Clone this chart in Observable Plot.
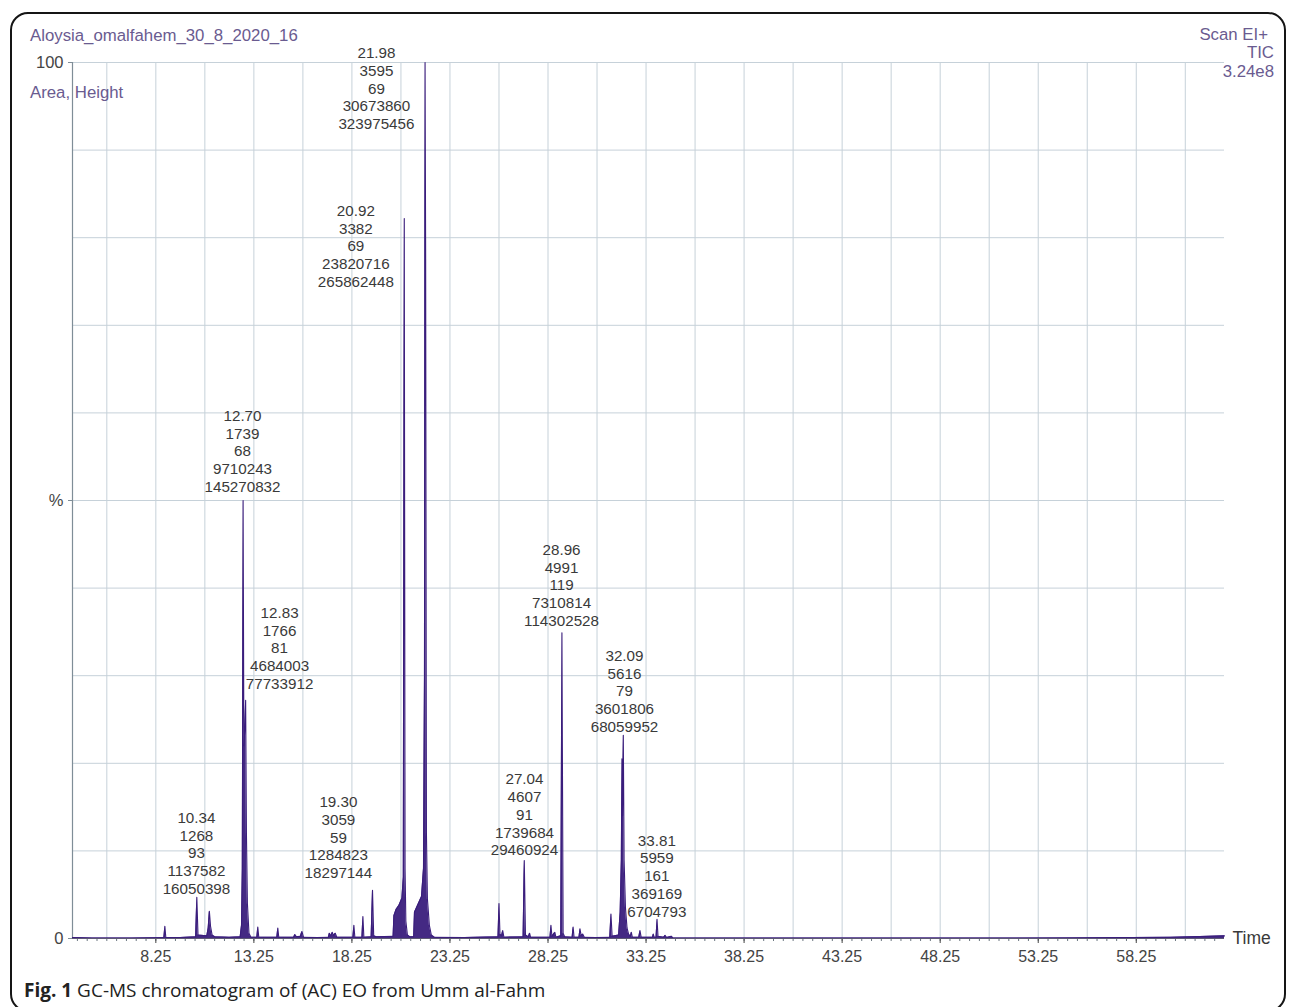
<!DOCTYPE html>
<html>
<head>
<meta charset="utf-8">
<script src="https://cdn.jsdelivr.net/npm/d3@7"></script>
<script src="https://cdn.jsdelivr.net/npm/@observablehq/plot@0.6"></script>
<style>
  html, body { margin: 0; padding: 0; background: #fff; }
  #wrap { position: relative; width: 1293px; height: 1007px; overflow: hidden; background: #fff; }
  #frame { position: absolute; left: 10px; top: 12px; width: 1276px; height: 1000px; border: 2px solid #151515; border-radius: 18px; box-sizing: border-box; }
  #chart { position: absolute; left: 0; top: 0; }
  .hdr { position: absolute; font-family: "Liberation Sans", Arial, sans-serif; font-size: 16.8px; color: #6a5b90; line-height: 18px; white-space: nowrap; }
  #caption { position: absolute; left: 24px; top: 977px; font-family: "Open Sans", "Noto Sans", sans-serif; font-size: 19px; color: #222; white-space: nowrap; }
  #caption b { font-weight: 700; }
</style>
</head>
<body>
<div id="wrap">
  <div id="frame"></div>
  <div id="chart"></div>
  <div class="hdr" style="left:30px; top:27px;">Aloysia_omalfahem_30_8_2020_16</div>
  <div class="hdr" style="left:30px; top:84px;">Area, Height</div>
  <div class="hdr" style="right:25px; top:26px; text-align:right;">Scan EI+</div>
  <div class="hdr" style="right:19px; top:44px; text-align:right;">TIC</div>
  <div class="hdr" style="right:19px; top:63px; text-align:right;">3.24e8</div>
  <div id="caption"><b>Fig. 1</b> GC-MS chromatogram of (AC) EO from Umm al-Fahm</div>
</div>
<script>
// ---- Data ----
const xDomain = [4, 62.75];
const majorTicks = [8.25, 13.25, 18.25, 23.25, 28.25, 33.25, 38.25, 43.25, 48.25, 53.25, 58.25];
const gridTimes = [5.75, 8.25, 10.75, 13.25, 15.75, 18.25, 20.75, 23.25, 25.75, 28.25, 30.75, 33.25, 35.75, 38.25, 40.75, 43.25, 45.75, 48.25, 50.75, 53.25, 55.75, 58.25, 60.75];
const gridPct = [0, 10, 20, 30, 40, 50, 60, 70, 80, 90, 100];
const yTicks = [0, 50, 100];
const yTickLabels = ["0", "%", "100"];

// TIC trace (retention time in min, relative intensity in %)
const traceTime = [4.0, 5.0, 6.0, 7.0, 8.0, 8.66, 8.71, 8.76, 9.5, 10.28, 10.34, 10.40, 10.85, 10.92, 10.98, 11.04, 11.12, 11.25, 12.0, 12.55, 12.62, 12.66, 12.70, 12.74, 12.79, 12.83, 12.87, 12.92, 13.0, 13.1, 13.40, 13.45, 13.50, 14.42, 14.47, 14.52, 15.28, 15.34, 15.42, 15.62, 15.70, 15.78, 16.5, 17.05, 17.10, 17.17, 17.25, 17.31, 17.40, 17.48, 18.30, 18.35, 18.40, 18.76, 18.81, 18.86, 19.23, 19.30, 19.36, 19.5, 20.35, 20.39, 20.5, 20.65, 20.8, 20.87, 20.92, 20.96, 21.0, 21.08, 21.2, 21.40, 21.44, 21.6, 21.8, 21.9, 21.95, 21.98, 22.01, 22.05, 22.1, 22.2, 22.3, 22.45, 24.0, 25.70, 25.75, 25.80, 25.88, 25.94, 26.0, 26.98, 27.04, 27.10, 27.25, 27.31, 27.36, 28.35, 28.40, 28.45, 28.60, 28.65, 28.90, 28.96, 29.02, 29.1, 29.48, 29.53, 29.58, 29.83, 29.88, 29.94, 30.02, 30.1, 30.7, 31.40, 31.46, 31.52, 31.85, 31.93, 31.99, 32.02, 32.05, 32.09, 32.13, 32.2, 32.28, 32.36, 32.45, 32.50, 32.55, 32.88, 32.94, 33.0, 33.58, 33.62, 33.66, 33.76, 33.81, 33.86, 34.15, 34.22, 34.3, 34.55, 34.62, 36.0, 40.0, 45.0, 50.0, 55.0, 58.0, 60.0, 61.5, 62.75];
const tracePct = [0.1, 0.05, 0.05, 0.06, 0.08, 0.1, 1.4, 0.1, 0.1, 0.2, 4.7, 0.4, 0.3, 1.2, 3.1, 1.4, 0.4, 0.2, 0.15, 0.2, 1.5, 8, 50.0, 22, 24, 27.2, 12, 4, 0.6, 0.15, 0.15, 1.3, 0.15, 0.15, 1.2, 0.15, 0.15, 0.45, 0.2, 0.25, 0.8, 0.15, 0.1, 0.15, 0.6, 0.3, 0.7, 0.35, 0.6, 0.15, 0.15, 1.5, 0.15, 0.15, 2.5, 0.15, 0.2, 5.5, 0.3, 0.2, 0.25, 2.6, 3.3, 3.8, 4.6, 7, 82.2, 8, 2, 0.4, 0.2, 0.2, 3.0, 3.8, 4.8, 8, 30, 100, 77.6, 12, 4.5, 1.5, 0.4, 0.15, 0.1, 0.2, 4.0, 0.5, 0.3, 0.9, 0.15, 0.2, 8.9, 0.4, 0.2, 0.6, 0.15, 0.15, 1.5, 0.25, 0.7, 0.15, 0.3, 34.9, 0.6, 0.2, 0.15, 1.3, 0.15, 0.15, 1.1, 0.35, 0.5, 0.15, 0.1, 0.15, 2.8, 0.25, 0.4, 3, 9, 20.5, 14, 23.2, 9, 3.5, 1.2, 0.5, 0.25, 0.7, 0.15, 0.15, 0.9, 0.15, 0.15, 0.5, 0.15, 0.15, 2.2, 0.25, 0.15, 0.35, 0.1, 0.25, 0.05, 0.05, 0.05, 0.05, 0.05, 0.07, 0.1, 0.15, 0.22, 0.3];

// Peak annotations: retention time, scan, base peak, height, area
const peakRT = ["21.98", "20.92", "12.70", "12.83", "28.96", "32.09", "27.04", "19.30", "10.34", "33.81"];
const peakScan = ["3595", "3382", "1739", "1766", "4991", "5616", "4607", "3059", "1268", "5959"];
const peakMass = ["69", "69", "68", "81", "119", "79", "91", "59", "93", "161"];
const peakHeight = ["30673860", "23820716", "9710243", "4684003", "7310814", "3601806", "1739684", "1284823", "1137582", "369169"];
const peakArea = ["323975456", "265862448", "145270832", "77733912", "114302528", "68059952", "29460924", "18297144", "16050398", "6704793"];
// where each annotation block sits (centre, in chart units)
const labelTime = [19.50, 18.45, 12.67, 14.56, 28.94, 32.15, 27.05, 17.56, 10.32, 33.80];
const labelPct = [97.1, 79.1, 55.7, 33.2, 40.4, 28.3, 14.2, 11.6, 9.8, 7.2];

// ---- Build tables ----
const trace = traceTime.map((t, i) => ({t, v: tracePct[i]}));
const labels = peakRT.map((rt, i) => ({
  t: labelTime[i], v: labelPct[i],
  text: [rt, peakScan[i], peakMass[i], peakHeight[i], peakArea[i]].join("\n")
}));
const minorTicks = d3.range(4.25, 62.75, 0.5);
const timeLabel = [{t: xDomain[1], v: 0, text: "Time"}];

const traceColor = "#3a1d7c";
const gridColor = "#c6d1d9";

const chart = Plot.plot({
  width: 1293,
  height: 975,
  marginLeft: 72,
  marginRight: 69,
  marginTop: 62,
  marginBottom: 37,
  style: {fontFamily: "'Liberation Sans', Arial, sans-serif", fontSize: "15px", color: "#3a3a3a", background: "transparent"},
  x: {domain: xDomain, label: null},
  y: {domain: [0, 100], label: null},
  marks: [
    Plot.gridX(gridTimes, {stroke: gridColor, strokeOpacity: 1, strokeWidth: 1}),
    Plot.gridY(gridPct, {stroke: gridColor, strokeOpacity: 1, strokeWidth: 1}),
    Plot.ruleX([xDomain[0]], {stroke: "#7f8d97", strokeWidth: 1.2}),
    Plot.axisX({ticks: minorTicks, tickFormat: () => "", tickSize: 3, stroke: "#6c7780"}),
    Plot.axisX({ticks: majorTicks, tickFormat: d => d.toFixed(2), tickSize: 5, tickPadding: 7, fontSize: 16, color: "#444"}),
    Plot.axisY({ticks: yTicks, tickFormat: d => yTickLabels[yTicks.indexOf(d)], tickSize: 4, tickPadding: 5, fontSize: 16.5, color: "#444", stroke: "#7f8d97"}),
    Plot.areaY(trace, {x: "t", y: "v", fill: traceColor, fillOpacity: 0.95}),
    Plot.lineY(trace, {x: "t", y: "v", stroke: traceColor, strokeWidth: 1.1}),
    Plot.ruleY([0], {stroke: "#5d5874", strokeWidth: 1}),
    Plot.text(labels, {x: "t", y: "v", text: "text", lineAnchor: "middle", lineHeight: 1.167, fontSize: 15.2, fill: "#3a3a3a", textAnchor: "middle"}),
    Plot.text(timeLabel, {x: "t", y: "v", text: "text", textAnchor: "start", dx: 8, fontSize: 17.5, fill: "#3a3a3a"})
  ]
});
document.getElementById("chart").appendChild(chart);
</script>
</body>
</html>
